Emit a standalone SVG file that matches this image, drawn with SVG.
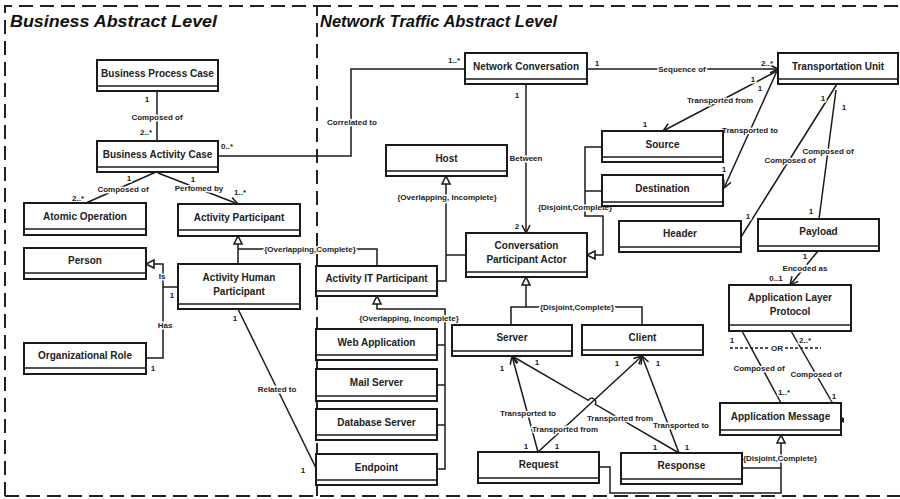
<svg xmlns="http://www.w3.org/2000/svg" width="900" height="499" viewBox="0 0 900 499">
<style>
.box{fill:#fff;stroke:#1a1a1a;stroke-width:2}
.div{stroke:#1a1a1a;stroke-width:1.6}
.nm{font-family:"Liberation Sans",Arial,sans-serif;font-weight:bold;font-size:10px;fill:#222;text-anchor:middle}
.lb{font-family:"Liberation Sans",Arial,sans-serif;font-weight:bold;font-size:8px;fill:#222;text-anchor:middle;paint-order:stroke;stroke:#fff;stroke-width:3px;stroke-linejoin:round}
.ln{fill:none;stroke:#1a1a1a;stroke-width:1.5}
.frame{fill:none;stroke:#222;stroke-width:2;stroke-dasharray:14 7}
.title{font-family:"Liberation Sans",Arial,sans-serif;font-weight:bold;font-style:italic;font-size:17px;fill:#111}
</style>
<defs>
<marker id="tri" markerUnits="userSpaceOnUse" markerWidth="12" markerHeight="12" refX="9" refY="5" orient="auto" viewBox="0 0 12 12"><path d="M1,1 L9,5 L1,9 Z" fill="#fff" stroke="#1a1a1a" stroke-width="1.6"/></marker>
<marker id="arr" markerUnits="userSpaceOnUse" markerWidth="12" markerHeight="12" refX="9" refY="5" orient="auto" viewBox="0 0 12 12"><path d="M1,1 L9,5 L1,9" fill="none" stroke="#1a1a1a" stroke-width="1.5"/></marker>
<marker id="dia" markerUnits="userSpaceOnUse" markerWidth="12" markerHeight="8" refX="1" refY="3" orient="auto-start-reverse" viewBox="0 0 12 6"><path d="M1,3 L5,0.6 L9,3 L5,5.4 Z" fill="#1a1a1a"/></marker>
</defs>
<rect width="900" height="499" fill="#fff"/>
<g id="frames">
<path class="frame" d="M5,496 V6 H317 V496"/>
<path class="frame" d="M317,6 H900"/>
<path class="frame" d="M5,496 H900" stroke="#777" stroke-width="1.6"/>
<text class="title" x="10" y="27" textLength="207" lengthAdjust="spacingAndGlyphs">Business Abstract Level</text>
<text class="title" x="320" y="27" textLength="237" lengthAdjust="spacingAndGlyphs">Network Traffic Abstract Level</text>
</g>
<g id="connectors">
<path class="ln" d="M157,91 V141" marker-start="url(#dia)"/>
<path class="ln" d="M156,172 L86,203" marker-start="url(#dia)"/>
<path class="ln" d="M158,173 L238,204" marker-end="url(#arr)"/>
<path class="ln" d="M218,156 H351 V69 H465"/>
<path class="ln" d="M587,69 H778" marker-end="url(#arr)"/>
<path class="ln" d="M526,84 V233" marker-end="url(#arr)"/>
<path class="ln" d="M777,71 L663,131" marker-end="url(#arr)"/>
<path class="ln" d="M777,71 L724,188" marker-end="url(#arr)"/>
<path class="ln" d="M837,84 L741,237" marker-start="url(#dia)"/>
<path class="ln" d="M836,90 L819,219"/>
<path class="ln" d="M818,251 L790,285" marker-end="url(#arr)"/>
<path class="ln" d="M742,331 L781,403"/>
<path class="ln" d="M791,331 L840,416" marker-end="url(#dia)"/>
<path class="ln" d="M730,348 H821" stroke-dasharray="3 2" stroke-width="1.2"/>
<path class="ln" d="M602,147 H585 V216 H603 V255 H587" marker-end="url(#tri)"/>
<path class="ln" d="M585,191 H602"/>
<path class="ln" d="M437,281 H446 V176" marker-end="url(#tri)"/>
<path class="ln" d="M466,255 H446"/>
<path class="ln" d="M238,264 V236" marker-end="url(#tri)"/>
<path class="ln" d="M377,266 V249 H238"/>
<path class="ln" d="M178,287 H163 V264 H146" marker-end="url(#tri)"/>
<path class="ln" d="M163,287 V358 H146"/>
<path class="ln" d="M238,309 L316,468"/>
<path class="ln" d="M437,469 H445 V309 H377 V296" marker-end="url(#tri)"/>
<path class="ln" d="M437,345 H445 M437,385 H445 M437,425 H445"/>
<path class="ln" d="M511,325 V307 H642 V325"/>
<path class="ln" d="M526,307 V277" marker-end="url(#tri)"/>
<path class="ln" d="M538,452 L512,356" marker-end="url(#arr)"/>
<path class="ln" d="M538,452 L642,356" marker-end="url(#arr)"/>
<path class="ln" d="M679,453 L595.3,404.3 A4,4 0 0 0 588.3,400.3 L512,356" marker-end="url(#arr)"/>
<path class="ln" d="M679,453 L642,356" marker-end="url(#arr)"/>
<path class="ln" d="M600,467 H610 V493 H781 V435" marker-end="url(#tri)"/>
<path class="ln" d="M742,468 H781"/>
</g>
<g id="labels">
<text class="lb" x="147" y="102">1</text>
<text class="lb" x="157" y="120">Composed of</text>
<text class="lb" x="146" y="135">2..*</text>
<text class="lb" x="227" y="149">0..*</text>
<text class="lb" x="129" y="181">1</text>
<text class="lb" x="123" y="192">Composed of</text>
<text class="lb" x="78" y="201">2..*</text>
<text class="lb" x="193" y="182">1</text>
<text class="lb" x="199" y="191">Perfomed by</text>
<text class="lb" x="240" y="195">1..*</text>
<text class="lb" x="352" y="125">Correlated to</text>
<text class="lb" x="454" y="63">1..*</text>
<text class="lb" x="597" y="66">1</text>
<text class="lb" x="682" y="72">Sequence of</text>
<text class="lb" x="767" y="66">2..*</text>
<text class="lb" x="517" y="98">1</text>
<text class="lb" x="526" y="161">Between</text>
<text class="lb" x="517" y="229">2</text>
<text class="lb" x="753" y="82">1</text>
<text class="lb" x="720" y="103">Transported from</text>
<text class="lb" x="645" y="127">1</text>
<text class="lb" x="760" y="91">1</text>
<text class="lb" x="750" y="133">Transported to</text>
<text class="lb" x="724" y="172">1</text>
<text class="lb" x="823" y="101">1</text>
<text class="lb" x="790" y="163">Composed of</text>
<text class="lb" x="748" y="219">1</text>
<text class="lb" x="844" y="110">1</text>
<text class="lb" x="828" y="154">Composed of</text>
<text class="lb" x="811" y="214">1</text>
<text class="lb" x="805" y="259">1</text>
<text class="lb" x="805" y="271">Encoded as</text>
<text class="lb" x="776" y="281">0..1</text>
<text class="lb" x="732" y="343">1</text>
<text class="lb" x="805" y="343">2..*</text>
<text class="lb" x="777" y="351">OR</text>
<text class="lb" x="759" y="371">Composed of</text>
<text class="lb" x="816" y="377">Composed of</text>
<text class="lb" x="784" y="395">1..*</text>
<text class="lb" x="834" y="399">1</text>
<text class="lb" x="447" y="200">{Overlapping, Incomplete}</text>
<text class="lb" x="575" y="210">{Disjoint,Complete}</text>
<text class="lb" x="310" y="252">{Overlapping,Complete}</text>
<text class="lb" x="162" y="279">Is</text>
<text class="lb" x="172" y="298">1</text>
<text class="lb" x="165" y="328">Has</text>
<text class="lb" x="153" y="371">1</text>
<text class="lb" x="235" y="321">1</text>
<text class="lb" x="277" y="392">Related to</text>
<text class="lb" x="303" y="473">1</text>
<text class="lb" x="409" y="321">{Overlapping, Incomplete}</text>
<text class="lb" x="577" y="310">{Disjoint,Complete}</text>
<text class="lb" x="502" y="371">1</text>
<text class="lb" x="537" y="365">1</text>
<text class="lb" x="617" y="366">1</text>
<text class="lb" x="658" y="366">1</text>
<text class="lb" x="528" y="416">Transported to</text>
<text class="lb" x="565" y="432">Transported from</text>
<text class="lb" x="620" y="421">Transported from</text>
<text class="lb" x="681" y="428">Transported to</text>
<text class="lb" x="526" y="449">1</text>
<text class="lb" x="557" y="449">1</text>
<text class="lb" x="655" y="450">1</text>
<text class="lb" x="687" y="450">1</text>
<text class="lb" x="780" y="461">{Disjoint,Complete}</text>
</g>
<g id="node-bpc"><rect class="box" x="97" y="60" width="121" height="31"/><line class="div" x1="97" y1="86" x2="218" y2="86"/><text class="nm" x="157.5" y="77">Business Process Case</text></g>
<g id="node-bac"><rect class="box" x="97" y="141" width="121" height="31"/><line class="div" x1="97" y1="167" x2="218" y2="167"/><text class="nm" x="157.5" y="158">Business Activity Case</text></g>
<g id="node-ao"><rect class="box" x="24" y="203" width="122" height="32"/><line class="div" x1="24" y1="229" x2="146" y2="229"/><text class="nm" x="85" y="220">Atomic Operation</text></g>
<g id="node-ap"><rect class="box" x="178" y="204" width="122" height="32"/><line class="div" x1="178" y1="230" x2="300" y2="230"/><text class="nm" x="239" y="221">Activity Participant</text></g>
<g id="node-person"><rect class="box" x="24" y="248" width="122" height="31"/><line class="div" x1="24" y1="273" x2="146" y2="273"/><text class="nm" x="85" y="264">Person</text></g>
<g id="node-ahp"><rect class="box" x="178" y="264" width="122" height="45"/><line class="div" x1="178" y1="304" x2="300" y2="304"/><text class="nm" x="239" y="281">Activity Human</text><text class="nm" x="239" y="295">Participant</text></g>
<g id="node-or"><rect class="box" x="24" y="343" width="122" height="31"/><line class="div" x1="24" y1="368" x2="146" y2="368"/><text class="nm" x="85" y="359">Organizational Role</text></g>
<g id="node-ait"><rect class="box" x="316" y="266" width="121" height="30"/><line class="div" x1="316" y1="291" x2="437" y2="291"/><text class="nm" x="376.5" y="282">Activity IT Participant</text></g>
<g id="node-wa"><rect class="box" x="316" y="329" width="121" height="31"/><line class="div" x1="316" y1="355" x2="437" y2="355"/><text class="nm" x="376.5" y="346">Web Application</text></g>
<g id="node-ms"><rect class="box" x="316" y="369" width="121" height="32"/><line class="div" x1="316" y1="396" x2="437" y2="396"/><text class="nm" x="376.5" y="386">Mail Server</text></g>
<g id="node-db"><rect class="box" x="316" y="409" width="121" height="31"/><line class="div" x1="316" y1="435" x2="437" y2="435"/><text class="nm" x="376.5" y="426">Database Server</text></g>
<g id="node-ep"><rect class="box" x="316" y="454" width="121" height="31"/><line class="div" x1="316" y1="480" x2="437" y2="480"/><text class="nm" x="376.5" y="471">Endpoint</text></g>
<g id="node-host"><rect class="box" x="386" y="145" width="121" height="31"/><line class="div" x1="386" y1="171" x2="507" y2="171"/><text class="nm" x="446.5" y="162">Host</text></g>
<g id="node-nc"><rect class="box" x="465" y="53" width="122" height="31"/><line class="div" x1="465" y1="79" x2="587" y2="79"/><text class="nm" x="526" y="70">Network Conversation</text></g>
<g id="node-cpa"><rect class="box" x="466" y="233" width="121" height="44"/><line class="div" x1="466" y1="272" x2="587" y2="272"/><text class="nm" x="526.5" y="249">Conversation</text><text class="nm" x="526.5" y="263">Participant Actor</text></g>
<g id="node-server"><rect class="box" x="452" y="325" width="120" height="31"/><line class="div" x1="452" y1="351" x2="572" y2="351"/><text class="nm" x="512" y="341">Server</text></g>
<g id="node-client"><rect class="box" x="582" y="325" width="121" height="30"/><line class="div" x1="582" y1="350" x2="703" y2="350"/><text class="nm" x="642.5" y="341">Client</text></g>
<g id="node-request"><rect class="box" x="478" y="452" width="121" height="31"/><line class="div" x1="478" y1="478" x2="599" y2="478"/><text class="nm" x="538.5" y="468">Request</text></g>
<g id="node-response"><rect class="box" x="621" y="453" width="121" height="31"/><line class="div" x1="621" y1="479" x2="742" y2="479"/><text class="nm" x="681.5" y="469">Response</text></g>
<g id="node-am"><rect class="box" x="720" y="403" width="121" height="32"/><line class="div" x1="720" y1="430" x2="841" y2="430"/><text class="nm" x="780.5" y="420">Application Message</text></g>
<g id="node-alp"><rect class="box" x="729" y="285" width="122" height="46"/><line class="div" x1="729" y1="325" x2="851" y2="325"/><text class="nm" x="790" y="301">Application Layer</text><text class="nm" x="790" y="315">Protocol</text></g>
<g id="node-payload"><rect class="box" x="758" y="219" width="121" height="32"/><line class="div" x1="758" y1="246" x2="879" y2="246"/><text class="nm" x="818.5" y="235">Payload</text></g>
<g id="node-header"><rect class="box" x="619" y="221" width="122" height="31"/><line class="div" x1="619" y1="247" x2="741" y2="247"/><text class="nm" x="680" y="237">Header</text></g>
<g id="node-source"><rect class="box" x="602" y="131" width="121" height="31"/><line class="div" x1="602" y1="157" x2="723" y2="157"/><text class="nm" x="662.5" y="148">Source</text></g>
<g id="node-destination"><rect class="box" x="602" y="175" width="121" height="31"/><line class="div" x1="602" y1="202" x2="723" y2="202"/><text class="nm" x="662.5" y="192">Destination</text></g>
<g id="node-tu"><rect class="box" x="778" y="53" width="120" height="31"/><line class="div" x1="778" y1="79" x2="898" y2="79"/><text class="nm" x="838" y="70">Transportation Unit</text></g>
</svg>
